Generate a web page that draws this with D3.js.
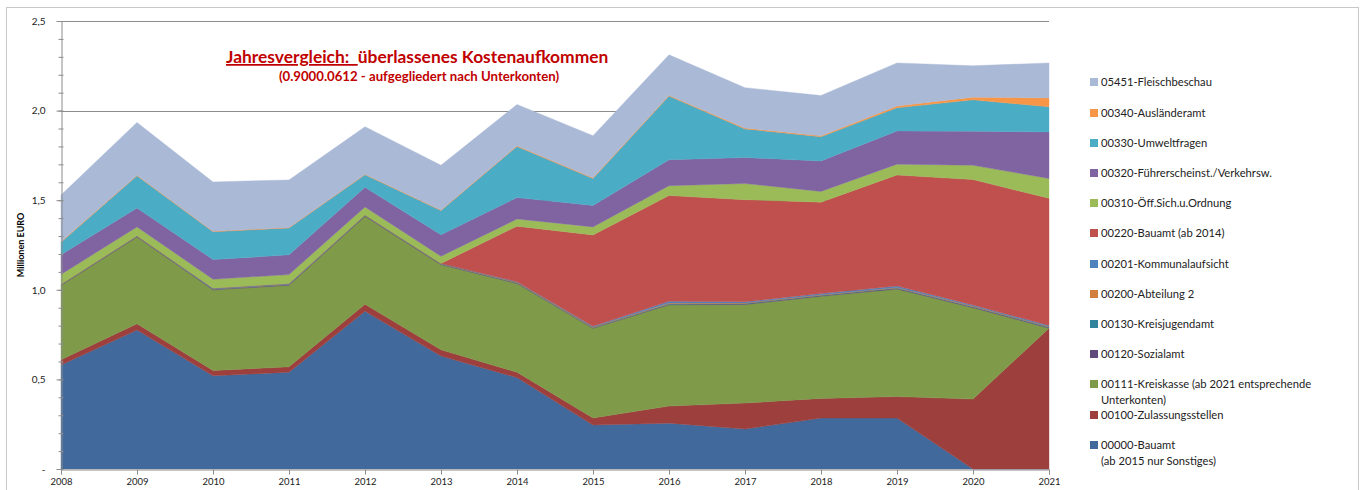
<!DOCTYPE html>
<html>
<head>
<meta charset="utf-8">
<script src="https://cdn.jsdelivr.net/npm/d3@7"></script>
<style>
  body { margin: 0; background: #fff; }
  text { font-family: Lato, "Open Sans", sans-serif; }
</style>
</head>
<body>
<div class="main-container"></div>
<script>
// years on the x axis
var years = [2008, 2009, 2010, 2011, 2012, 2013, 2014, 2015, 2016, 2017, 2018, 2019, 2020, 2021];

// values in Mio EUR, bottom layer first
var bauamtAlt       = [0.58, 0.775, 0.52, 0.54, 0.88, 0.63, 0.51, 0.245, 0.256, 0.223, 0.284, 0.284, 0, 0];
var zulassung       = [0.03, 0.035, 0.03, 0.03, 0.04, 0.035, 0.03, 0.04, 0.095, 0.145, 0.11, 0.12, 0.39, 0.786];
var kreiskasse      = [0.415, 0.485, 0.45, 0.455, 0.49, 0.475, 0.495, 0.5, 0.565, 0.55, 0.57, 0.6, 0.51, 0];
var sozialamt       = [0.002, 0.002, 0.003, 0.003, 0.003, 0.003, 0.003, 0.003, 0.004, 0.004, 0.004, 0.004, 0.004, 0.004];
var jugendamt       = [0.001, 0.001, 0.001, 0.001, 0.001, 0.001, 0.001, 0.001, 0.002, 0.002, 0.002, 0.002, 0.002, 0.002];
var abteilung2      = [0.001, 0.001, 0.001, 0.002, 0.001, 0.001, 0.003, 0.003, 0.004, 0.003, 0.003, 0.003, 0.003, 0.003];
var kommunal        = [0.002, 0.002, 0.004, 0.004, 0.002, 0.002, 0.003, 0.004, 0.01, 0.006, 0.006, 0.008, 0.006, 0.006];
var bauamtNeu       = [0, 0, 0, 0, 0, 0, 0.31, 0.51, 0.59, 0.57, 0.51, 0.62, 0.7, 0.71];
var oeffSich        = [0.055, 0.05, 0.05, 0.05, 0.045, 0.04, 0.04, 0.045, 0.055, 0.09, 0.06, 0.06, 0.08, 0.11];
var fuehrerschein   = [0.11, 0.105, 0.11, 0.11, 0.11, 0.12, 0.12, 0.12, 0.145, 0.145, 0.17, 0.185, 0.19, 0.26];
var umwelt          = [0.07, 0.18, 0.155, 0.15, 0.07, 0.135, 0.285, 0.15, 0.355, 0.16, 0.135, 0.13, 0.175, 0.14];
var auslaender      = [0.003, 0.003, 0.003, 0.003, 0.003, 0.003, 0.004, 0.004, 0.005, 0.005, 0.005, 0.01, 0.015, 0.05];
var fleisch         = [0.26, 0.295, 0.275, 0.265, 0.265, 0.25, 0.23, 0.235, 0.225, 0.225, 0.225, 0.24, 0.175, 0.195];

var seriesNames = ["00000-Bauamt|(ab 2015 nur Sonstiges)", "00100-Zulassungsstellen",
  "00111-Kreiskasse (ab 2021 entsprechende|Unterkonten)", "00120-Sozialamt", "00130-Kreisjugendamt",
  "00200-Abteilung 2", "00201-Kommunalaufsicht", "00220-Bauamt (ab 2014)", "00310-Öff.Sich.u.Ordnung",
  "00320-Führerscheinst./Verkehrsw.", "00330-Umweltfragen", "00340-Ausländeramt", "05451-Fleischbeschau"];
var seriesValues = [bauamtAlt, zulassung, kreiskasse, sozialamt, jugendamt, abteilung2, kommunal,
  bauamtNeu, oeffSich, fuehrerschein, umwelt, auslaender, fleisch];
var seriesColors = ["#41699b", "#9c3f3d", "#7f9a48", "#604a7b", "#31849b", "#d2803e", "#4f81bd",
  "#c0504d", "#9bbb59", "#8064a2", "#4bacc6", "#f79646", "#aab9d6"];

var yTicks = [0, 0.5, 1.0, 1.5, 2.0, 2.5];

// table for d3.stack
var table = years.map(function (y, i) {
  var row = { year: y };
  seriesValues.forEach(function (s, k) { row["s" + k] = s[i]; });
  return row;
});
var keys = seriesValues.map(function (d, k) { return "s" + k; });

var svg = d3.select(".main-container")
  .append("svg")
  .attr("width", 1365)
  .attr("height", 490);

// outer chart frame
svg.append("rect")
  .attr("x", 6.5).attr("y", 7.5)
  .attr("width", 1352).attr("height", 490)
  .style("fill", "none").style("stroke", "#c8c8c8");

var x = d3.scaleLinear().domain([2008, 2021]).range([61, 1049]);
var y = d3.scaleLinear().domain([0, 2.5]).range([469, 21]);

// gridlines
svg.append("g").selectAll("line")
  .data(yTicks.slice(1))
  .enter().append("line")
  .attr("x1", x(2008)).attr("x2", x(2021))
  .attr("y1", function (d) { return Math.round(y(d)) + 0.5; })
  .attr("y2", function (d) { return Math.round(y(d)) + 0.5; })
  .style("stroke", "#8c8c8c");

var stacked = d3.stack().keys(keys)(table);

var area = d3.area()
  .x(function (d) { return x(d.data.year); })
  .y0(function (d) { return y(d[0]); })
  .y1(function (d) { return y(d[1]); });

svg.append("g").selectAll("path")
  .data(stacked)
  .enter().append("path")
  .attr("d", area)
  .style("fill", function (d, i) { return seriesColors[i]; })
  .style("stroke", function (d, i) { return seriesColors[i]; })
  .style("stroke-width", 0.4);

// y axis with minor ticks
var minor = d3.range(0, 26).map(function (d) { return d / 10; });
svg.append("g")
  .attr("transform", "translate(" + (x(2008) + 0.5) + ",0)")
  .call(d3.axisLeft(y).tickValues(minor).tickSize(4).tickFormat(""))
  .call(function (g) {
    g.selectAll("line").attr("x2", -3).attr("x1", 2).style("stroke", "#8c8c8c");
    g.select(".domain").style("stroke", "#8c8c8c");
  });
svg.append("g")
  .attr("transform", "translate(" + (x(2008) + 0.5) + ",0)")
  .call(d3.axisLeft(y).tickValues(yTicks).tickSize(5)
    .tickFormat(function (d) { return d === 0 ? "-" : d3.format(".1f")(d).replace(".", ","); }))
  .call(function (g) {
    g.select(".domain").remove();
    g.selectAll("line").style("stroke", "#8c8c8c");
    g.selectAll("text").attr("x", -16).style("font-size", "10px").style("fill", "#222");
  });

// x axis
svg.append("g")
  .attr("transform", "translate(0," + (y(0) + 0.5) + ")")
  .call(d3.axisBottom(x).tickValues(years).tickSize(5).tickFormat(d3.format("d")))
  .call(function (g) {
    g.select(".domain").style("stroke", "#8c8c8c");
    g.selectAll("line").style("stroke", "#8c8c8c");
    g.selectAll("text").attr("y", 9).style("font-size", "9.5px").style("fill", "#222");
  });

// y axis title
svg.append("text")
  .attr("transform", "translate(24,245) rotate(-90)")
  .attr("text-anchor", "middle")
  .style("font-size", "9px").style("font-weight", "bold")
  .text("Millionen EURO");

// title
var title = svg.append("text")
  .attr("x", 226).attr("y", 63)
  .style("font-size", "17.4px").style("font-weight", "bold").style("fill", "#c00000");
title.append("tspan").style("text-decoration", "underline").text("Jahresvergleich:\u00a0\u00a0");
title.append("tspan").text("überlassenes Kostenaufkommen");

svg.append("text")
  .attr("x", 419).attr("y", 81)
  .attr("text-anchor", "middle")
  .style("font-size", "13.2px").style("font-weight", "bold").style("fill", "#c00000")
  .text("(0.9000.0612 - aufgegliedert nach Unterkonten)");

// legend, top entry is the last series
var legendY = [82, 113, 143, 173, 203, 233, 264, 294, 324, 354, 384, 415, 445];
var legendIdx = d3.range(seriesNames.length).reverse();
var legend = svg.append("g").selectAll("g")
  .data(legendIdx)
  .enter().append("g")
  .attr("transform", function (d, i) { return "translate(1090," + legendY[i] + ")"; });

legend.append("rect")
  .attr("x", 0).attr("y", -4)
  .attr("width", 8).attr("height", 8)
  .style("fill", function (d) { return seriesColors[d]; });

legend.append("text")
  .attr("x", 11).attr("y", 4)
  .style("font-size", "11.2px").style("fill", "#222")
  .each(function (d) {
    var parts = seriesNames[d].split("|");
    var t = d3.select(this);
    parts.forEach(function (p, j) {
      t.append("tspan").attr("x", 11).attr("dy", j === 0 ? 0 : 15.5).text(p);
    });
  });
</script>
</body>
</html>
